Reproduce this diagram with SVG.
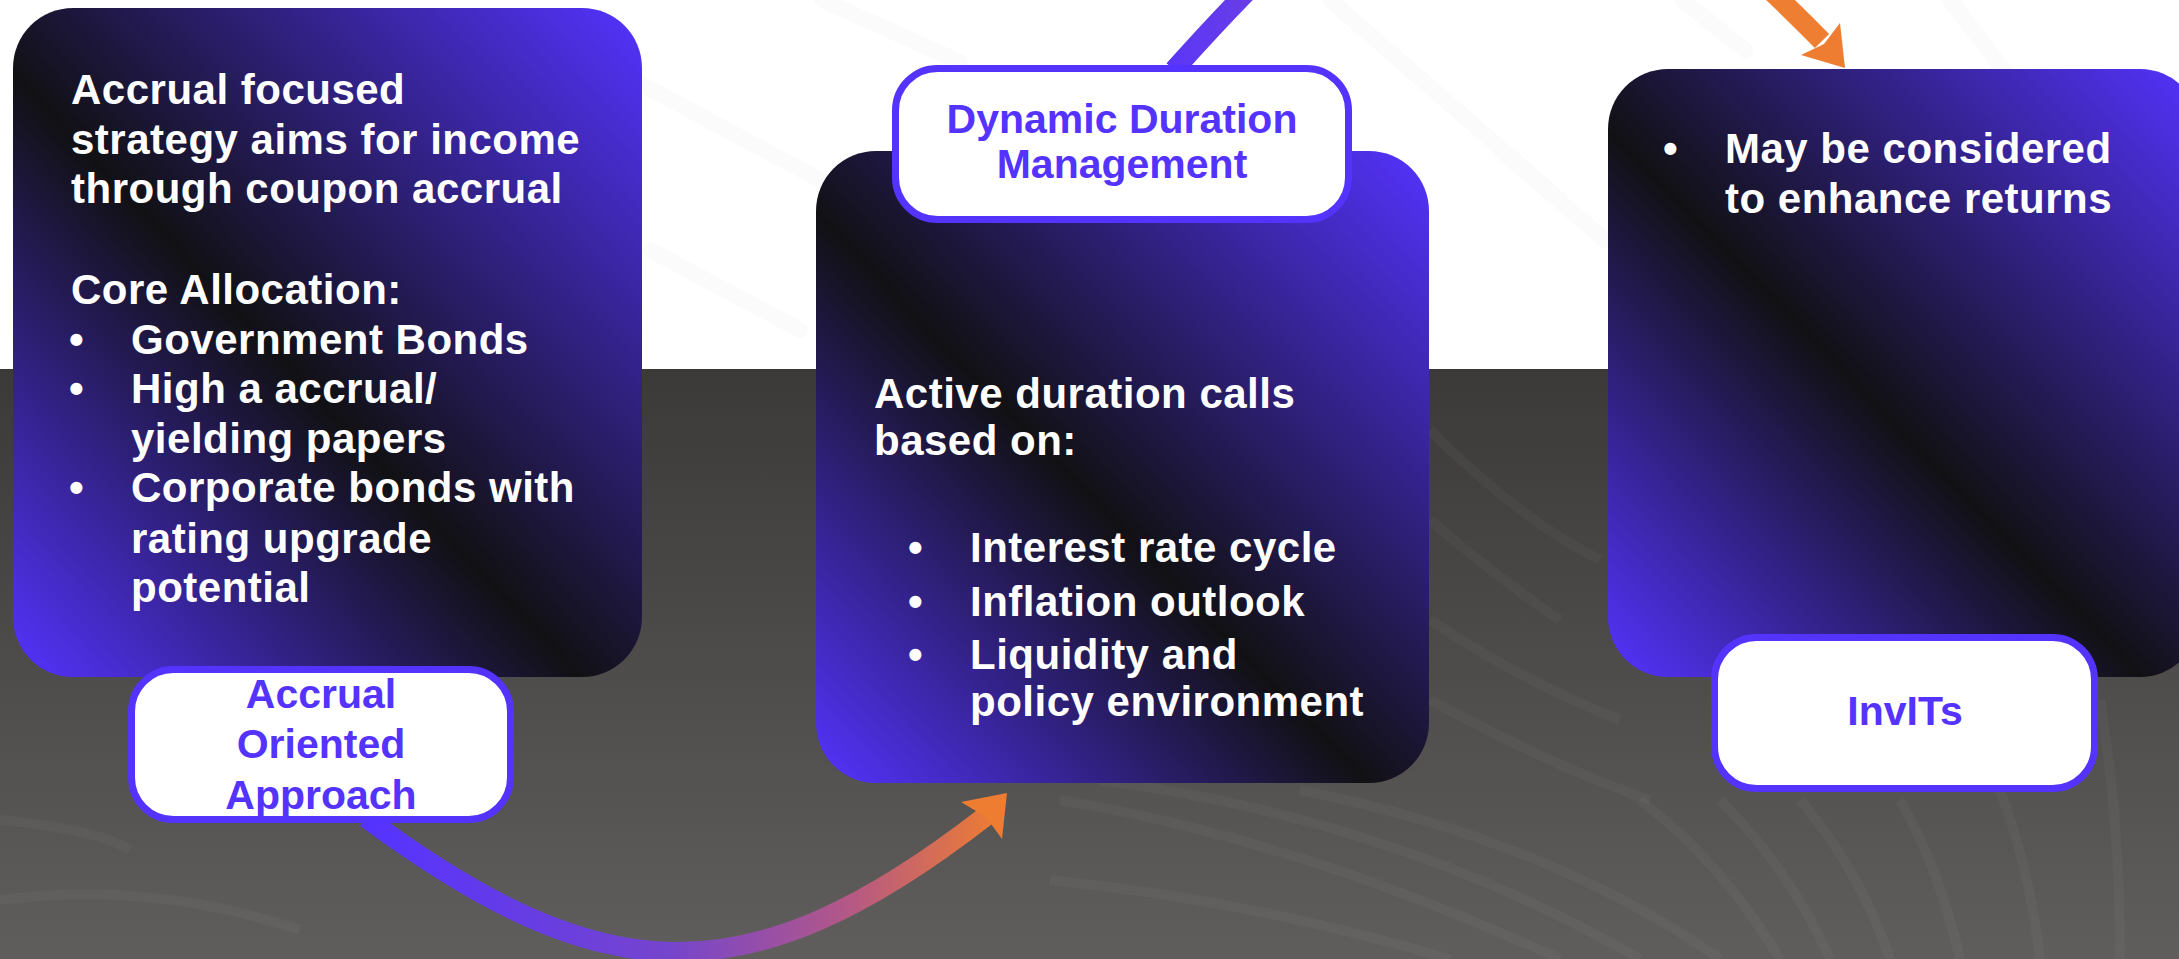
<svg xmlns="http://www.w3.org/2000/svg" width="2179" height="959" viewBox="0 0 2179 959">
  <defs>
    <linearGradient id="cardGrad" x1="0" y1="1" x2="1" y2="0">
      <stop offset="0" stop-color="#5533ff"/>
      <stop offset="0.45" stop-color="#111114"/>
      <stop offset="1" stop-color="#5533ff"/>
    </linearGradient>
    <linearGradient id="darkBg" x1="0" y1="0" x2="0" y2="1">
      <stop offset="0" stop-color="#3b3a38"/>
      <stop offset="1" stop-color="#605e5c"/>
    </linearGradient>
    <linearGradient id="conn1Grad" gradientUnits="userSpaceOnUse" x1="368" y1="0" x2="1000" y2="0">
      <stop offset="0" stop-color="#5533ff"/>
      <stop offset="0.48" stop-color="#7645cc"/>
      <stop offset="0.76" stop-color="#b45886"/>
      <stop offset="1" stop-color="#ee7d31"/>
    </linearGradient>
    <linearGradient id="conn2Grad" gradientUnits="userSpaceOnUse" x1="1174" y1="0" x2="1830" y2="0">
      <stop offset="0" stop-color="#5c36f6"/>
      <stop offset="0.15" stop-color="#6c40e2"/>
      <stop offset="0.5" stop-color="#a8569a"/>
      <stop offset="0.85" stop-color="#ee7f32"/>
      <stop offset="1" stop-color="#ee7f32"/>
    </linearGradient>
    <style>
      .card { fill: url(#cardGrad); }
      .label { fill: #ffffff; stroke: #5533ff; stroke-width: 7; }
      .body { font-family: "Liberation Sans", Arial, sans-serif; font-weight: 700; font-size: 42px; fill: #ffffff; letter-spacing: 0.5px; }
      .lbl { font-family: "Liberation Sans", Arial, sans-serif; font-weight: 700; font-size: 41px; fill: #5533ff; text-anchor: middle; }
      .stripe { stroke: #fbfbfb; stroke-width: 16; fill: none; stroke-linecap: round; }
      .fan { stroke: #ffffff; stroke-opacity: 0.03; stroke-width: 10; fill: none; }
      .conn { fill: none; stroke-width: 20; }
      .head { fill: #ee7d31; }
    </style>
  </defs>

  <!-- background -->
  <g id="background">
    <rect x="0" y="0" width="2179" height="369" fill="#ffffff"/>
    <line class="stripe" x1="600" y1="62" x2="880" y2="212"/>
    <line class="stripe" x1="822" y1="0" x2="960" y2="62"/>
    <line class="stripe" x1="430" y1="120" x2="600" y2="215"/>
    <line class="stripe" x1="1330" y1="0" x2="1560" y2="200"/>
    <line class="stripe" x1="1682" y1="0" x2="1745" y2="50"/>
    <line class="stripe" x1="1950" y1="0" x2="2015" y2="85"/>
    <line class="stripe" x1="1500" y1="150" x2="1605" y2="240"/>
    <line class="stripe" x1="650" y1="250" x2="800" y2="330"/>
    <rect x="0" y="369" width="2179" height="590" fill="url(#darkBg)"/>
    <path class="fan" d="M1430 430 Q1520 520 1600 560"/>
    <path class="fan" d="M1430 520 Q1500 580 1560 620"/>
    <path class="fan" d="M1430 620 Q1520 680 1620 720"/>
    <path class="fan" d="M1430 700 Q1560 770 1650 800"/>
    <path class="fan" d="M1060 800 Q1300 840 1560 959"/>
    <path class="fan" d="M1100 780 Q1400 820 1640 959"/>
    <path class="fan" d="M1300 790 Q1550 840 1720 959"/>
    <path class="fan" d="M1050 880 Q1250 900 1450 959"/>
    <path class="fan" d="M1640 800 Q1720 860 1780 959"/>
    <path class="fan" d="M1720 800 Q1790 870 1830 959"/>
    <path class="fan" d="M1800 800 Q1860 870 1890 959"/>
    <path class="fan" d="M1900 800 Q1940 870 1960 959"/>
    <path class="fan" d="M2000 790 Q2030 870 2040 959"/>
    <path class="fan" d="M2100 700 Q2120 820 2120 959"/>
    <path class="fan" d="M0 900 Q150 880 300 930"/>
    <path class="fan" d="M0 820 Q100 830 130 850"/>
  </g>

  <!-- connectors -->
  <g id="connectors">
    <path id="conn-accrual-to-duration" class="conn" stroke="url(#conn1Grad)" d="M366 818 C600 990, 744 1004, 986 816"/>
    <polygon class="head" points="1007,793 961,802 986,817 1002,839"/>
    <path id="conn-duration-to-invits" class="conn" stroke="url(#conn2Grad)" d="M1174 70 C1442 -230, 1542 -243, 1822 41"/>
    <polygon class="head" points="1845,68 1801,55 1824,44 1840,23"/>
  </g>

  <!-- node 1 -->
  <g id="node-accrual">
    <rect class="card" x="13" y="8" width="629" height="669" rx="60" ry="60"/>
    <text class="body" x="71" y="104">Accrual focused</text>
    <text class="body" x="71" y="154">strategy aims for income</text>
    <text class="body" x="71" y="203">through coupon accrual</text>
    <text class="body" x="71" y="304">Core Allocation:</text>
    <text class="body" x="69" y="354">•</text>
    <text class="body" x="131" y="354">Government Bonds</text>
    <text class="body" x="69" y="403">•</text>
    <text class="body" x="131" y="403">High a accrual/</text>
    <text class="body" x="131" y="453">yielding papers</text>
    <text class="body" x="69" y="502">•</text>
    <text class="body" x="131" y="502">Corporate bonds with</text>
    <text class="body" x="131" y="553">rating upgrade</text>
    <text class="body" x="131" y="602">potential</text>
  </g>
  <g id="label-accrual">
    <rect class="label" x="131.5" y="669.5" width="379" height="150" rx="42" ry="42"/>
    <text class="lbl" x="321" y="708">Accrual</text>
    <text class="lbl" x="321" y="758">Oriented</text>
    <text class="lbl" x="321" y="809">Approach</text>
  </g>

  <!-- node 2 -->
  <g id="node-duration">
    <rect class="card" x="816" y="151" width="613" height="632" rx="60" ry="60"/>
    <text class="body" x="874" y="408">Active duration calls</text>
    <text class="body" x="874" y="455">based on:</text>
    <text class="body" x="908" y="562">•</text>
    <text class="body" x="970" y="562">Interest rate cycle</text>
    <text class="body" x="908" y="616">•</text>
    <text class="body" x="970" y="616">Inflation outlook</text>
    <text class="body" x="908" y="669">•</text>
    <text class="body" x="970" y="669">Liquidity and</text>
    <text class="body" x="970" y="716">policy environment</text>
  </g>
  <g id="label-duration">
    <rect class="label" x="895.5" y="68.5" width="453" height="151" rx="42" ry="42"/>
    <text class="lbl" x="1122" y="133">Dynamic Duration</text>
    <text class="lbl" x="1122" y="178">Management</text>
  </g>

  <!-- node 3 -->
  <g id="node-invits">
    <rect class="card" x="1608" y="69" width="592" height="608" rx="60" ry="60"/>
    <text class="body" x="1663" y="163">•</text>
    <text class="body" x="1725" y="163">May be considered</text>
    <text class="body" x="1725" y="213">to enhance returns</text>
  </g>
  <g id="label-invits">
    <rect class="label" x="1714.5" y="637.5" width="380" height="151" rx="42" ry="42"/>
    <text class="lbl" x="1905" y="725">InvITs</text>
  </g>
</svg>
